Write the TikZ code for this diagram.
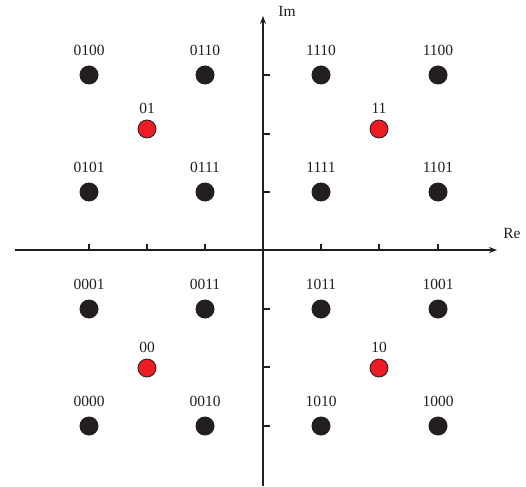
\documentclass[tikz,border=0pt]{standalone}
\usepackage{fontspec}
\setmainfont{Liberation Serif}
\usetikzlibrary{arrows.meta}
\definecolor{ink}{HTML}{231F20}
\definecolor{redpt}{HTML}{ED1C24}
\begin{document}
\begin{tikzpicture}[x=1pt,y=-1pt,
  axis/.style={draw=ink,line width=1.8pt,-{Stealth[length=8pt,width=6pt]}},
  tick/.style={draw=ink,line width=1.6pt},
  blk/.style={circle,fill=ink,minimum size=19pt,inner sep=0pt},
  rdot/.style={circle,fill=redpt,draw=ink,line width=0.8pt,minimum size=18pt,inner sep=0pt},
  lab/.style={font=\fontsize{15.5}{15.5}\selectfont,text=ink,inner sep=0pt}]
\useasboundingbox (0,0) rectangle (526,486);
% axes
\coordinate (xl) at (15,250);
\coordinate (xr) at (497,250);
\coordinate (yb) at (263,486);
\coordinate (yt) at (263,16);
\draw[axis] (xl) -- (xr);
\draw[axis] (yb) -- (yt);
\node[lab] (re) at (512,233) {Re};
\node[lab] (im) at (287,11) {Im};
% ticks
\foreach \t in {89,147,205,321,379,438}{
  \coordinate (tx\t) at (\t,250);
  \draw[tick] (tx\t) -- ++(0,-6);
}
\foreach \t in {75,134,192,309,367,426}{
  \coordinate (ty\t) at (263,\t);
  \draw[tick] (ty\t) -- ++(7,0);
}
% black points
\foreach \x/\y/\s in {
  89/75/0100,205/75/0110,321/75/1110,438/75/1100,
  89/192/0101,205/192/0111,321/192/1111,438/192/1101,
  89/309/0001,205/309/0011,321/309/1011,438/309/1001,
  89/426/0000,205/426/0010,321/426/1010,438/426/1000}{
  \node[blk] (p\s) at (\x,\y) {};
  \node[lab] (l\s) at (\x,\y-25) {\s};
}
% red points
\foreach \x/\y/\s in {147/129/01,379/129/11,147/368/00,379/368/10}{
  \node[rdot] (r\s) at (\x,\y) {};
  \node[lab] (m\s) at (\x,\y-21) {\s};
}
\end{tikzpicture}
\end{document}
